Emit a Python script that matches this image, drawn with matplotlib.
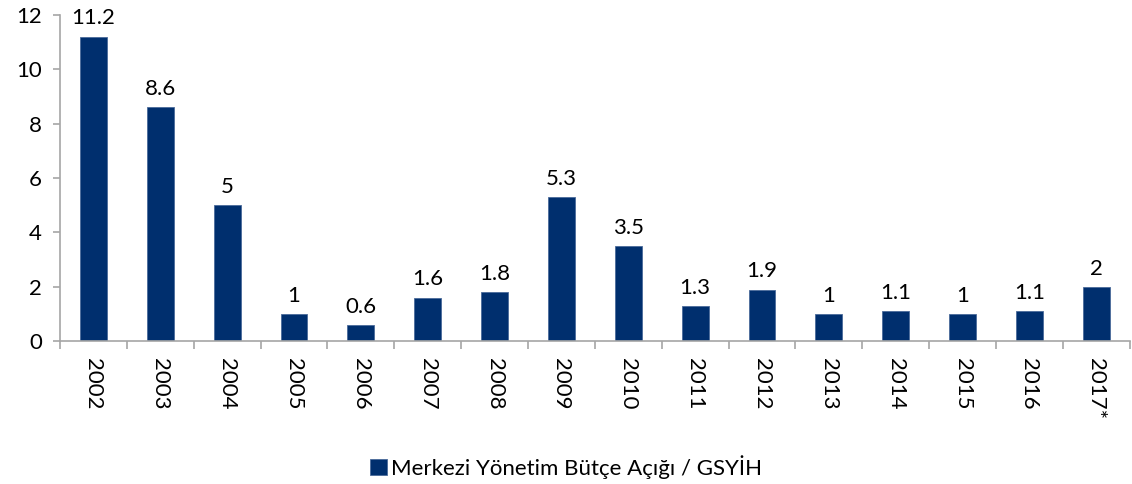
import matplotlib
matplotlib.use("Agg")
import matplotlib.pyplot as plt
from matplotlib.ticker import FixedLocator, NullFormatter

plt.rcParams['font.family'] = ['Lato', 'DejaVu Sans']

# Veriler
yillar = ['2002', '2003', '2004', '2005', '2006', '2007', '2008', '2009',
          '2010', '2011', '2012', '2013', '2014', '2015', '2016', '2017*']
butce_acigi = [11.2, 8.6, 5, 1, 0.6, 1.6, 1.8, 5.3,
               3.5, 1.3, 1.9, 1, 1.1, 1, 1.1, 2]
etiketler = ['11.2', '8.6', '5', '1', '0.6', '1.6', '1.8', '5.3',
             '3.5', '1.3', '1.9', '1', '1.1', '1', '1.1', '2']

renk = '#002f6e'
gri = '#a6a6a6'
fs = 16

fig = plt.figure(figsize=(11.32, 4.84), dpi=100)
ax = fig.add_axes([0.053, 0.295, 0.945, 0.674])

x = range(len(yillar))
bars = ax.bar(x, butce_acigi, width=0.4, color=renk, edgecolor='#4a6a9a',
              linewidth=0.6, label='Merkezi Yönetim Bütçe Açığı / GSYİH')

for b, t in zip(bars, etiketler):
    ax.annotate(t, (b.get_x() + b.get_width() / 2, b.get_height()),
                xytext=(0, 6), textcoords='offset points',
                ha='center', va='bottom', fontsize=fs)

ax.set_xlim(-0.5, len(yillar) - 0.5)
ax.set_ylim(0, 12)
ax.set_yticks(range(0, 13, 2))
ax.tick_params(axis='y', labelsize=fs, length=5, color=gri, pad=8, width=1.2)

ax.set_xticks(list(x))
ax.set_xticklabels(yillar, rotation=270, fontsize=fs)
ax.tick_params(axis='x', which='major', length=0, pad=12)
ax.xaxis.set_minor_locator(FixedLocator([i - 0.5 for i in range(len(yillar) + 1)]))
ax.xaxis.set_minor_formatter(NullFormatter())
ax.tick_params(axis='x', which='minor', length=6, color=gri, width=1.2)

for s in ['top', 'right']:
    ax.spines[s].set_visible(False)
for s in ['left', 'bottom']:
    ax.spines[s].set_color(gri)
    ax.spines[s].set_linewidth(1.2)

fig.legend(handles=[bars], loc='center', bbox_to_anchor=(0.5, 0.035),
           frameon=False, fontsize=fs, handlelength=0.75, handleheight=0.75,
           handletextpad=0.2)

fig.savefig('out.png', dpi=100)
